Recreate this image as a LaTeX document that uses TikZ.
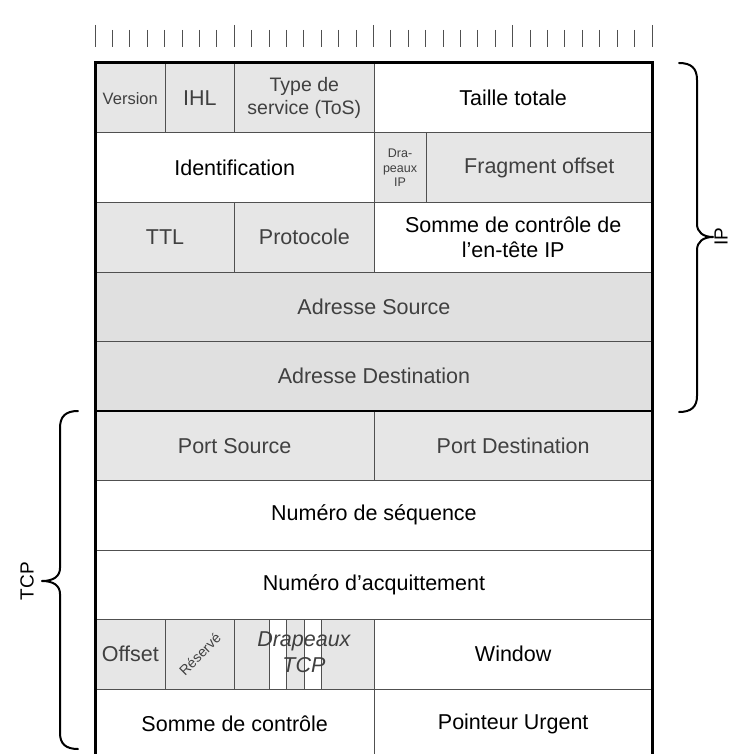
\documentclass[tikz,border=0pt]{standalone}
\usepackage{fontspec}
\setmainfont{Liberation Sans}
\definecolor{cellgray}{HTML}{E6E6E6}
\definecolor{addrgray}{HTML}{E0E0E0}
\definecolor{graytext}{HTML}{404040}
\definecolor{linegray}{HTML}{505050}
\definecolor{tickgray}{HTML}{505050}

% one header field: name, first bit, bit count, row, style, text
\newcommand{\hdrfield}[6]{%
  \node[#5, minimum width={#3*\bw pt}, minimum height={\rh pt}, anchor=north west]
    (#1) at ({\xo+#2*\bw},{\yo+#4*\rh}) {#6};}

\begin{document}
\begin{tikzpicture}[x=1pt,y=-1pt,
  cellbox/.style={draw=linegray, line width=0.9pt, inner sep=0pt, align=center,
    font=\fontsize{21.5}{25}\selectfont},
  graycell/.style={cellbox, fill=cellgray, text=graytext},
  addrcell/.style={cellbox, fill=addrgray, text=graytext},
  whitecell/.style={cellbox, fill=white, text=black},
  brace/.style={line width=2pt, line cap=round, line join=round},
  sidelabel/.style={font=\fontsize{19}{22}\selectfont, rotate=90, inner sep=0pt}]

\clip (0,0) rectangle (732,754);
\def\bw{17.40625}
\def\xo{95}
\def\yo{63}
\def\rh{69.5}

% bit ruler
\foreach \i in {0,...,32} {
  \pgfmathtruncatemacro{\m}{mod(\i,8)}
  \ifnum\m=0
    \draw[tickgray, line width=1pt] ({\xo+\i*\bw},25) -- ({\xo+\i*\bw},47);
  \else
    \draw[tickgray, line width=1pt] ({\xo+\i*\bw},30) -- ({\xo+\i*\bw},47);
  \fi
}

% IP header
\hdrfield{version}{0}{4}{0}{graycell, font=\fontsize{16.5}{20}\selectfont}{Version}
\hdrfield{ihl}{4}{4}{0}{graycell}{IHL}
\hdrfield{tos}{8}{8}{0}{graycell, font=\fontsize{19.5}{23.5}\selectfont}{Type de\\service (ToS)}
\hdrfield{totlen}{16}{16}{0}{whitecell}{Taille totale}
\hdrfield{ident}{0}{16}{1}{whitecell}{Identification}
\hdrfield{ipflags}{16}{3}{1}{graycell, font=\fontsize{12.5}{14.5}\selectfont}{Dra-\\peaux\\IP}
\hdrfield{fragoff}{19}{13}{1}{graycell}{Fragment offset}
\hdrfield{ttl}{0}{8}{2}{graycell}{TTL}
\hdrfield{proto}{8}{8}{2}{graycell}{Protocole}
\hdrfield{hdrsum}{16}{16}{2}{whitecell}{Somme de contrôle de\\l’en-tête IP}
\hdrfield{srcaddr}{0}{32}{3}{addrcell}{Adresse Source}
\hdrfield{dstaddr}{0}{32}{4}{addrcell}{Adresse Destination}

% TCP header
\hdrfield{srcport}{0}{16}{5}{graycell}{Port Source}
\hdrfield{dstport}{16}{16}{5}{graycell}{Port Destination}
\hdrfield{seqnum}{0}{32}{6}{whitecell}{Numéro de séquence}
\hdrfield{acknum}{0}{32}{7}{whitecell}{Numéro d’acquittement}
\hdrfield{tcpoff}{0}{4}{8}{graycell}{Offset}
\hdrfield{reserved}{4}{4}{8}{graycell}{}
\hdrfield{flagsa}{8}{2}{8}{graycell}{}
\hdrfield{flagsb}{10}{1}{8}{whitecell}{}
\hdrfield{flagsc}{11}{1}{8}{graycell}{}
\hdrfield{flagsd}{12}{1}{8}{whitecell}{}
\hdrfield{flagse}{13}{3}{8}{graycell}{}
\hdrfield{window}{16}{16}{8}{whitecell}{Window}
\hdrfield{tcpsum}{0}{16}{9}{whitecell}{Somme de contrôle}
\hdrfield{urgent}{16}{16}{9}{whitecell}{Pointeur Urgent}

\node[rotate=45, text=graytext, font=\fontsize{14}{16}\selectfont, inner sep=0pt]
  (reservedlabel) at (reserved.center) {Réservé};
\node[text=graytext, align=center, inner sep=0pt,
  font=\fontsize{21.5}{25.5}\selectfont\itshape]
  (tcpflagslabel) at ({\xo+12*\bw},{\yo+8.5*\rh-1.5}) {Drapeaux\\TCP};

% outer frame and IP/TCP separator
\draw[line width=3pt, line join=miter] (95,800) -- (95,63) -- (652,63) -- (652,800);
\draw[line width=2pt] (95,410.5) -- (652,410.5);

% IP brace on the right
\draw[brace] (679,63) .. controls (691,63) and (697,68) .. (697,80)
  -- (697,224) .. controls (697,232) and (703,237) .. (713,237)
  .. controls (703,237) and (697,242) .. (697,250)
  -- (697,396) .. controls (697,407) and (691,412) .. (679,412);
\node[sidelabel] (iplabel) at (721,237) {IP};

% TCP brace on the left
\draw[brace] (78,411) .. controls (66,411) and (60,416) .. (60,428)
  -- (60,568) .. controls (60,576) and (54,581) .. (42,581)
  .. controls (54,581) and (60,586) .. (60,594)
  -- (60,733) .. controls (60,744) and (66,749) .. (78,749);
\node[sidelabel] (tcplabel) at (27,581) {TCP};
\end{tikzpicture}
\end{document}
